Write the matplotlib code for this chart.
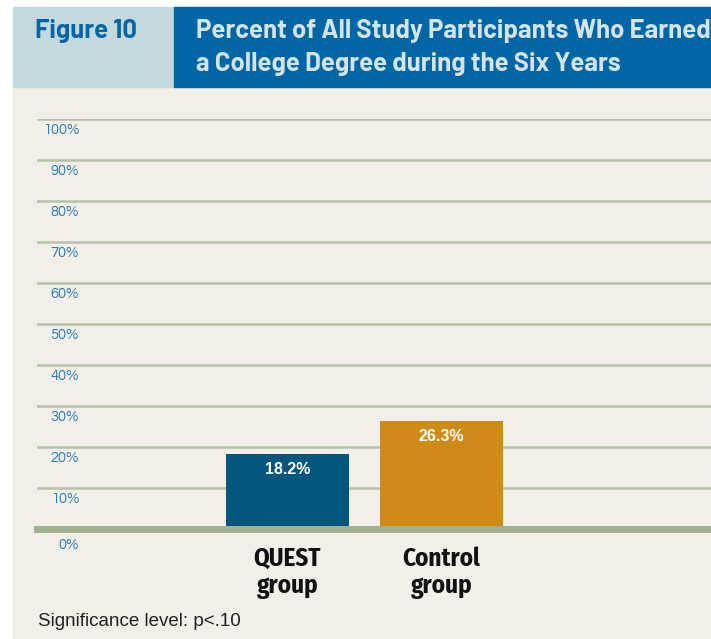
import matplotlib.pyplot as plt
import matplotlib.transforms as mtransforms
from matplotlib.patches import Rectangle

# chart data
groups = ["QUEST\ngroup", "Control\ngroup"]
values = [18.2, 26.3]
bar_colors = ["#03577f", "#d08a18"]
tick_values = [0, 10, 20, 30, 40, 50, 60, 70, 80, 90, 100]
tick_labels = ["0%", "10%", "20%", "30%", "40%", "50%", "60%", "70%", "80%", "90%", "100%"]

narrow = ["Fira Sans Condensed", "DejaVu Sans"]
head = ["Barlow", "Barlow Semi Condensed", "Fira Sans Condensed", "DejaVu Sans"]
plain = ["Liberation Sans", "DejaVu Sans"]
gothic = ["Questrial", "DejaVu Sans"]

W, H = 711, 639
fig = plt.figure(figsize=(W / 100, H / 100), dpi=100)
fig.patch.set_facecolor("white")


def fx(px):
    return px / W


def fy(py):
    return 1 - py / H


# background panels
fig.add_artist(Rectangle((fx(13), fy(639)), fx(698), (639 - 87) / H,
                         transform=fig.transFigure, color="#f2efe9", zorder=0))
fig.add_artist(Rectangle((fx(13), fy(87)), fx(161), 80 / H,
                         transform=fig.transFigure, color="#c5d8dd", zorder=0))
fig.add_artist(Rectangle((fx(174), fy(87)), fx(537), 80 / H,
                         transform=fig.transFigure, color="#0166a5", zorder=0))

fig.text(fx(35), fy(31), "Figure 10", family=head, weight="bold",
         fontsize=18.5, color="#0166a5", va="center", ha="left", zorder=5)
fig.text(fx(196), fy(31), "Percent of All Study Participants Who Earned",
         family=head, weight="bold", fontsize=18.5, color="#d4e3e8",
         va="center", ha="left", zorder=5)
fig.text(fx(196), fy(64), "a College Degree during the Six Years",
         family=head, weight="bold", fontsize=18.5, color="#d4e3e8",
         va="center", ha="left", zorder=5)

# plot area: 0% at y=529, 100% at y=119, x from 37 to 711
ax = fig.add_axes([fx(37), fy(529), fx(674), 410 / H])
ax.set_facecolor("none")
ax.set_ylim(0, 100)
ax.set_xlim((37 - 287.5) / 154, (711 - 287.5) / 154)
for s in ax.spines.values():
    s.set_visible(False)
ax.set_xticks([])
ax.set_yticks([])

for v in tick_values[1:]:
    ax.axhline(v, color="#b7c2aa", lw=1.8, zorder=1)
ax.axhline(0, color="#a4b190", lw=5, zorder=3, clip_on=False)

trans = mtransforms.blended_transform_factory(ax.transAxes, ax.transData)
for v, lab in zip(tick_values, tick_labels):
    off = -4 if v == 0 else -2.8
    ax.text((79 - 37) / 674, v + off, lab, transform=trans, ha="right",
            va="center", fontsize=10.5, family=gothic, color="#2a7bb8",
            clip_on=False)

x = list(range(len(groups)))
bars = ax.bar(x, values, width=0.8, color=bar_colors, zorder=2)
for xi, v in zip(x, values):
    ax.text(xi, v - 3.7, f"{v}%", ha="center", va="center", fontsize=11.5,
            weight="bold", color="white", family=plain)
    ax.text(xi, -4.2, groups[xi], ha="center", va="top", fontsize=18,
            weight="bold", family=narrow, color="#111111", linespacing=1.1,
            clip_on=False)

fig.text(fx(38), fy(622), "Significance level: p<.10", fontsize=13.5,
         color="#222222", va="center", ha="left", family=plain)

fig.savefig("out.png", dpi=100, facecolor=fig.get_facecolor())
